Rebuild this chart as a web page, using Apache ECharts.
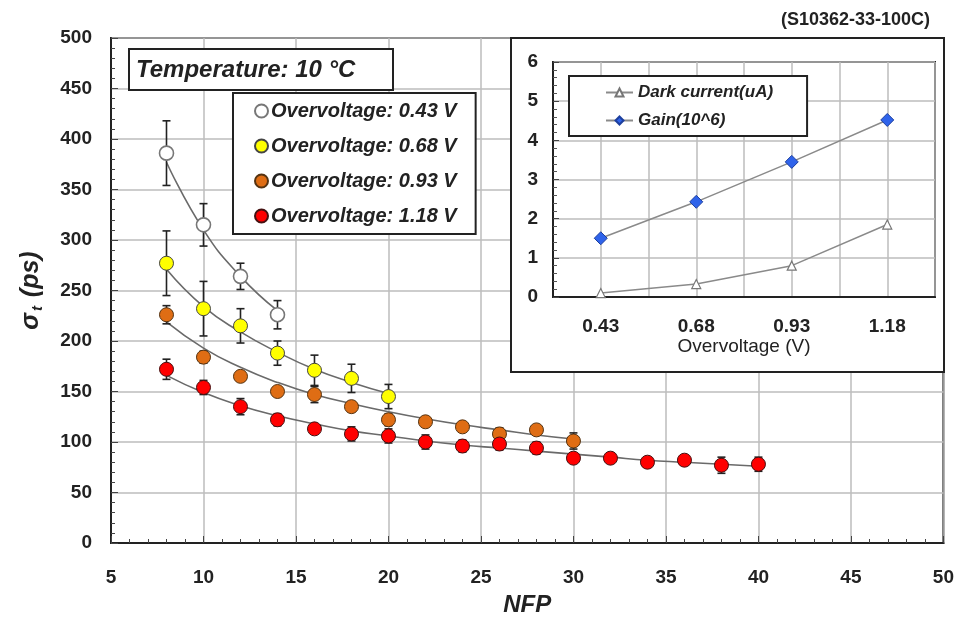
<!DOCTYPE html>
<html>
<head>
<meta charset="utf-8">
<script src="https://cdn.jsdelivr.net/npm/echarts@6/dist/echarts.min.js"></script>
<style>html,body{margin:0;padding:0;background:#fff}#c{width:957px;height:623px}</style>
</head>
<body>
<div id="c"></div>
<script>
// ---- data ----
const nfp = [8,10,12,14,16,18,20,22,24,26,28,30,32,34,36,38,40];

const names = ['Overvoltage: 0.43 V','Overvoltage: 0.68 V','Overvoltage: 0.93 V','Overvoltage: 1.18 V'];

const sigma043 = [386,315,264,226];
const err043   = [32,21,13,14];
const fit043   = [377,310,264,230];

const sigma068 = [277,232,215,188,171,163,145];
const err068   = [32,27,17,12,15,14,12];
const fit068   = [271,234,209,189,172,159,148];

const sigma093 = [226,184,165,150,147,135,122,120,115,108,112,101];
const err093   = [9,6,4,4,8,5,6,0,0,6,0,8];
const fit093   = [219,193,174,159,147,138,130,123,117,112,107,103];

const sigma118 = [172,154,135,122,113,108,106,100,96,98,94,84,84,80,82,77,78];
const err118   = [10,7,8,6,0,7,7,7,6,6,6,0,5,0,0,8,7];
const fit118   = [166,149,136,126,118,111,106,101,97,94,91,88,85,82,80,78,76];

const ovCats      = ['0.43','0.68','0.93','1.18'];
const darkCurrent = [0.1,0.33,0.8,1.85];
const gain        = [1.5,2.43,3.45,4.52];

// ---- helpers ----
const FONT = '"Liberation Sans", Arial, sans-serif';
const pairs = (ys) => ys.map((y,i)=>[nfp[i], y]);
const errPairs = (ys, es) => ys.map((y,i)=>[nfp[i], y, es[i]]).filter(d=>d[2]>0);

function errRender(params, api){
  const x = api.value(0), y = api.value(1), e = api.value(2);
  const t = api.coord([x, y+e]), b = api.coord([x, y-e]);
  const w = 4;
  const st = {stroke:'#222', lineWidth:1.6};
  return {type:'group', children:[
    {type:'line', shape:{x1:t[0],y1:t[1],x2:b[0],y2:b[1]}, style:st},
    {type:'line', shape:{x1:t[0]-w,y1:t[1],x2:t[0]+w,y2:t[1]}, style:st},
    {type:'line', shape:{x1:b[0]-w,y1:b[1],x2:b[0]+w,y2:b[1]}, style:st}
  ]};
}

const colors = ['#ffffff','#ffff00','#df6d14','#ff0000'];
const borders = ['#777777','#444444','#553311','#441111'];
const sigmas = [sigma043, sigma068, sigma093, sigma118];
const errs = [err043, err068, err093, err118];
const fits = [fit043, fit068, fit093, fit118];

const series = [];
fits.forEach((f,k)=>{
  series.push({name:'fit'+k, type:'line', xAxisIndex:0, yAxisIndex:0, data:pairs(f), smooth:true,
    showSymbol:false, symbol:'none', lineStyle:{color:'#6a6a6a', width:1.6}, z:2, silent:true});
});
errs.forEach((e,k)=>{
  series.push({name:'err'+k, type:'custom', xAxisIndex:0, yAxisIndex:0, renderItem:errRender,
    encode:{x:0,y:1}, data:errPairs(sigmas[k], e), z:3, silent:true});
});
sigmas.forEach((s,k)=>{
  series.push({name:names[k], type:'scatter', xAxisIndex:0, yAxisIndex:0, data:pairs(s),
    symbol:'circle', symbolSize:14,
    itemStyle:{color:colors[k], borderColor:borders[k], borderWidth:k===0?1.6:1, opacity:1}, z:4});
});
series.push({name:'Dark current(uA)', type:'line', xAxisIndex:1, yAxisIndex:1,
  data:darkCurrent.map((v,i)=>[i,v]), symbol:'triangle', symbolSize:9,
  lineStyle:{color:'#8a8a8a', width:1.5},
  itemStyle:{color:'#ffffff', borderColor:'#777', borderWidth:1.2}, z:17});
series.push({name:'Gain(10^6)', type:'line', xAxisIndex:1, yAxisIndex:1,
  data:gain.map((v,i)=>[i,v]), symbol:'diamond', symbolSize:13,
  lineStyle:{color:'#8a8a8a', width:1.5},
  itemStyle:{color:'#2f63ea', borderColor:'#1d3f9e', borderWidth:1}, z:17});

const labelStyle = {fontFamily:FONT, fontSize:19, fontWeight:'bold', color:'#222'};

const option = {
  animation:false,
  backgroundColor:'#ffffff',
  textStyle:{fontFamily:FONT},
  title:[
    {text:'(S10362-33-100C)', right:22, top:6,
      textStyle:{fontFamily:FONT, fontSize:18, fontWeight:'bold', color:'#222'}},
    {text:'Temperature: 10 °C', left:129, top:49, padding:[9,38,8,7],
      borderWidth:2, borderColor:'#222', backgroundColor:'#ffffff', z:6,
      textStyle:{fontFamily:FONT, fontSize:24, fontStyle:'italic', fontWeight:'bold', color:'#222'}}
  ],
  legend:[
    {data:names, orient:'vertical', left:233, top:93, padding:[8,19,8,21], itemGap:15,
      itemWidth:13, itemHeight:13, icon:'circle', backgroundColor:'#ffffff', borderColor:'#222', borderWidth:2,
      textStyle:{fontFamily:FONT, fontSize:20, fontStyle:'italic', fontWeight:'bold', color:'#222', padding:[0,0,0,-2]},
      selectedMode:false, z:6},
    {data:['Dark current(uA)','Gain(10^6)'], orient:'vertical', left:569, top:76, padding:[8,34,7,36], itemGap:11,
      itemWidth:27, itemHeight:10, backgroundColor:'#ffffff', borderColor:'#222', borderWidth:2,
      textStyle:{fontFamily:FONT, fontSize:17, fontStyle:'italic', fontWeight:'bold', color:'#222'},
      selectedMode:false, z:20}
  ],
  graphic:[
    {type:'rect', shape:{x:511, y:38, width:433, height:334},
      style:{fill:'#ffffff', stroke:'#222', lineWidth:2}, z:10, silent:true}
  ],
  grid:[
    {left:111, right:13, top:38, bottom:80, show:true, borderColor:'#222', borderWidth:2, backgroundColor:'transparent'},
    {left:553, right:22, top:62, bottom:326, show:true, borderColor:'#222', borderWidth:2, backgroundColor:'transparent', z:15}
  ],
  xAxis:[
    {type:'value', gridIndex:0, min:5, max:50, interval:5,
      axisLine:{lineStyle:{color:'#222', width:2}},
      axisTick:{inside:true, length:7, lineStyle:{color:'#444'}},
      minorTick:{show:true, splitNumber:5, length:4, lineStyle:{color:'#444'}},
      splitLine:{show:true, lineStyle:{color:'#bdbdbd', width:1.5}},
      axisLabel:Object.assign({margin:25}, labelStyle),
      name:'NFP', nameLocation:'middle', nameGap:50,
      nameTextStyle:{fontFamily:FONT, fontSize:24, fontStyle:'italic', fontWeight:'bold', color:'#222'}},
    {type:'value', gridIndex:1, min:-0.5, max:3.5, interval:0.5, z:16,
      axisLine:{onZero:false, lineStyle:{color:'#222', width:2}},
      axisTick:{show:false},
      splitLine:{show:true, lineStyle:{color:'#bdbdbd', width:1.5}},
      axisLabel:Object.assign({margin:20, showMinLabel:true, showMaxLabel:true,
        formatter:function(v){const i=Math.round(v); return (Math.abs(v-i)<1e-6 && i>=0 && i<ovCats.length)?ovCats[i]:'';}}, labelStyle),
      name:'Overvoltage (V)', nameLocation:'middle', nameGap:39,
      nameTextStyle:{fontFamily:FONT, fontSize:19, color:'#222'}}
  ],
  yAxis:[
    {type:'value', gridIndex:0, min:0, max:500, interval:50,
      axisLine:{show:true, onZero:false, lineStyle:{color:'#222', width:2}},
      axisTick:{show:true, inside:true, length:7, lineStyle:{color:'#444'}},
      minorTick:{show:true, splitNumber:5, length:4, lineStyle:{color:'#444'}},
      splitLine:{show:true, lineStyle:{color:'#bdbdbd', width:1.5}},
      axisLabel:Object.assign({margin:19}, labelStyle),
      name:'{s|σ}{sub|t}{s| (ps)}', nameLocation:'middle', nameGap:66,
      nameTextStyle:{color:'#222', rich:{
        s:{fontFamily:FONT, fontSize:25, fontStyle:'italic', fontWeight:'bold', color:'#222'},
        sub:{fontFamily:FONT, fontSize:15, fontStyle:'italic', fontWeight:'bold', color:'#222', padding:[12,2,0,2]}
      }}},
    {type:'value', gridIndex:1, min:0, max:6, interval:1, z:16,
      axisLine:{show:true, onZero:false, lineStyle:{color:'#222', width:2}},
      axisTick:{show:true, inside:true, length:6, lineStyle:{color:'#444'}},
      minorTick:{show:true, splitNumber:5, length:4, lineStyle:{color:'#555'}},
      splitLine:{show:true, lineStyle:{color:'#bdbdbd', width:1.5}},
      axisLabel:Object.assign({margin:15}, labelStyle)}
  ],
  series:series
};

const chart = echarts.init(document.getElementById('c'), null, {renderer:'canvas'});
chart.setOption(option);
</script>
</body>
</html>
